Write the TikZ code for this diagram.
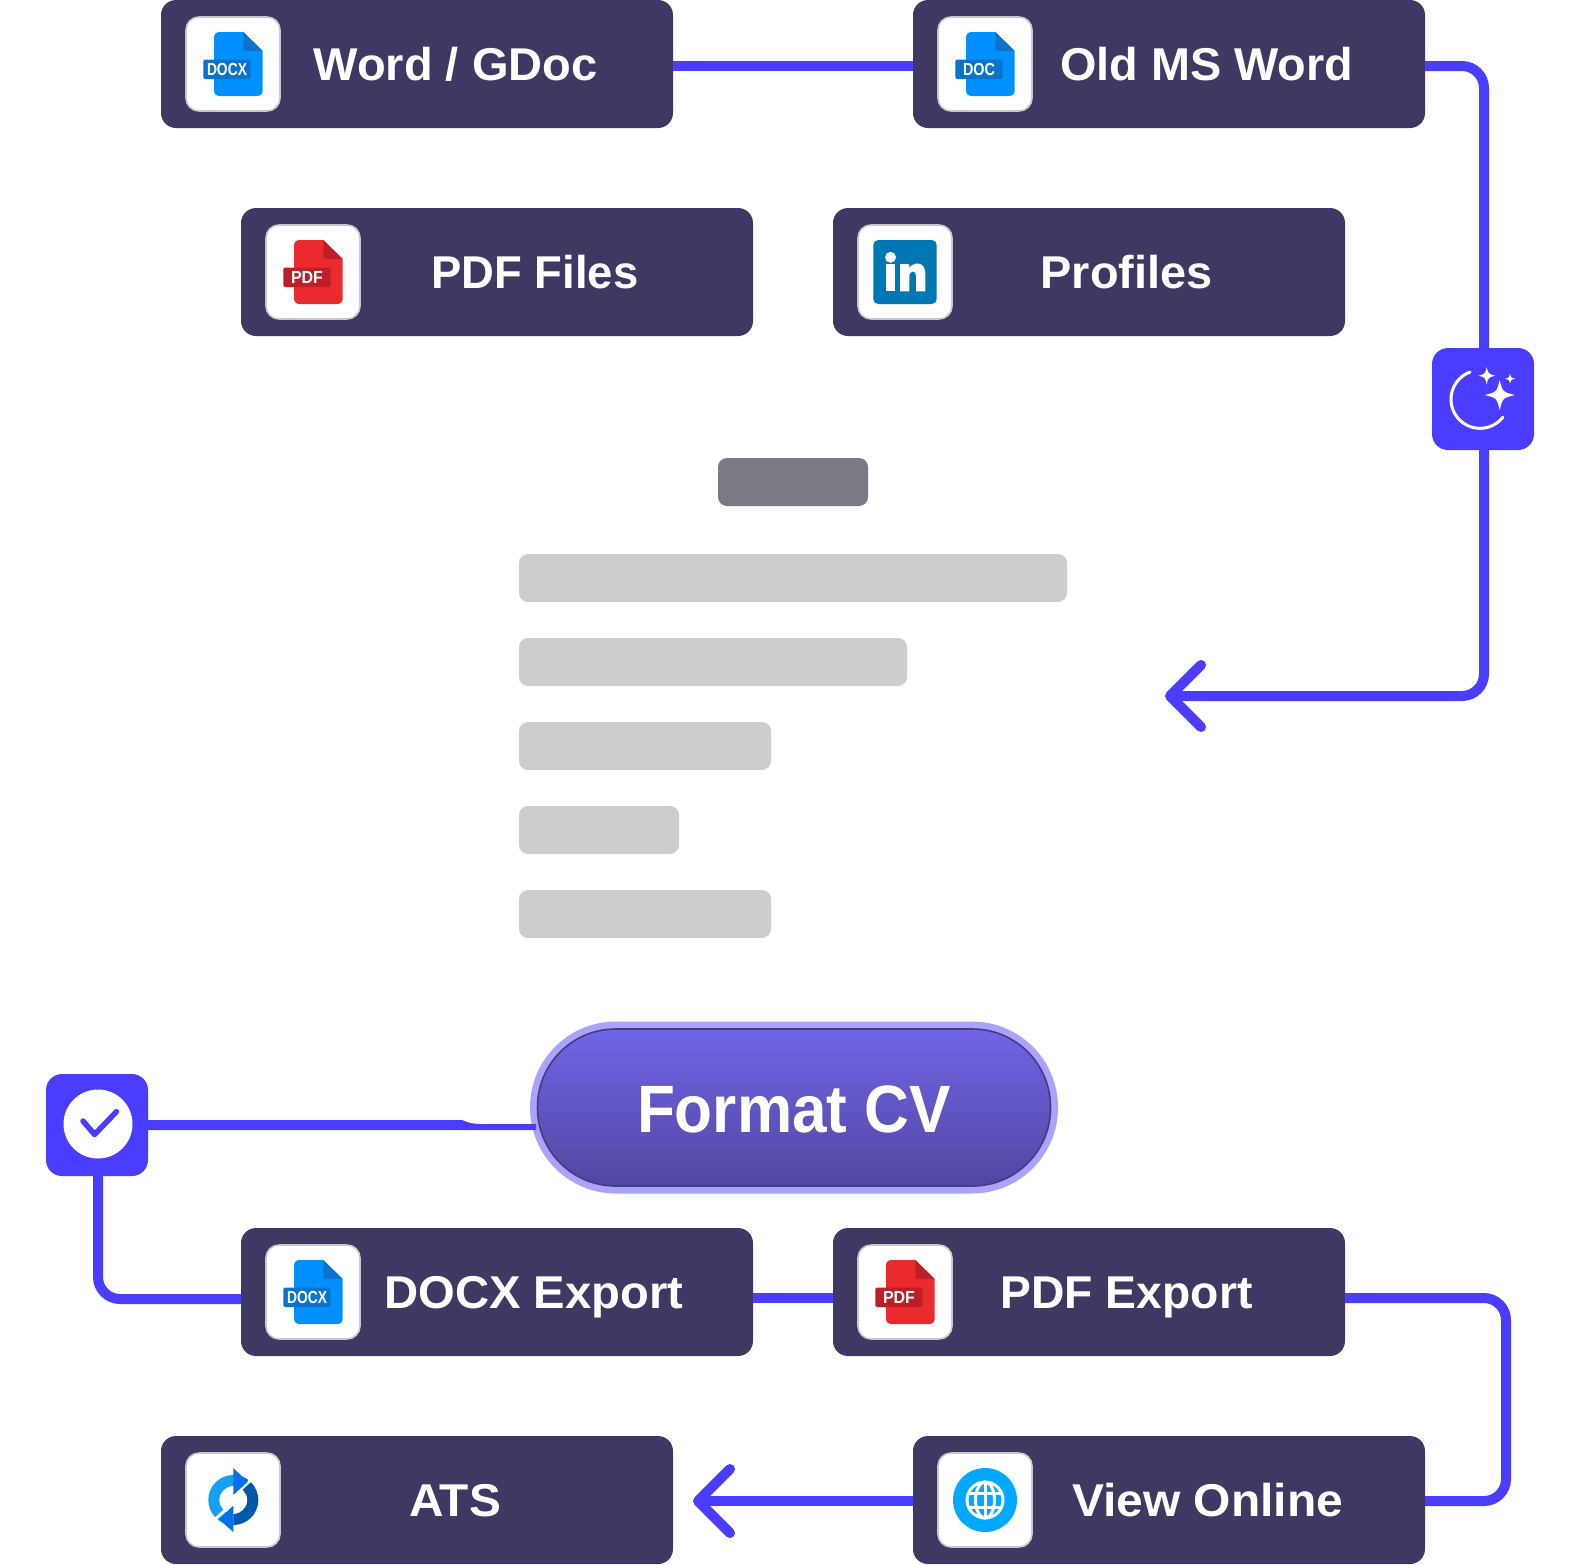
\documentclass[tikz,border=0pt]{standalone}
\usepackage{fontspec}
\usepackage{graphicx}
\setmainfont{Liberation Sans}
\definecolor{panel}{HTML}{3E3963}
\definecolor{conn}{HTML}{4B3DFF}
\definecolor{cardedge}{HTML}{C9C9CC}
\definecolor{barhead}{HTML}{7B7A84}
\definecolor{barbody}{HTML}{CDCDD0}
\definecolor{pillring}{HTML}{A9A3FA}
\definecolor{pilledge}{HTML}{423C86}
\definecolor{pilltop}{HTML}{7065E6}
\definecolor{pillbot}{HTML}{5047A2}
\definecolor{docmain}{HTML}{0090FF}
\definecolor{docdark}{HTML}{0A74CC}
\definecolor{pdfmain}{HTML}{EB2A2E}
\definecolor{pdfdark}{HTML}{BF1E26}
\definecolor{inblue}{HTML}{0077B5}
\definecolor{globeblue}{HTML}{00A8FF}
\definecolor{synclight}{HTML}{13A0F5}
\definecolor{syncmid}{HTML}{0071EE}
\definecolor{syncdark}{HTML}{0058A8}
\tikzset{
  x=1pt,y=-1pt,
  panelbox/.style={fill=panel,rounded corners=15pt,minimum width=512pt,minimum height=128pt,inner sep=0pt,outer sep=0pt},
  cardbox/.style={fill=white,draw=cardedge,line width=1.6pt,rounded corners=13pt,minimum width=94pt,minimum height=94pt,inner sep=0pt,outer sep=0pt},
  barbox/.style={fill=barbody,rounded corners=9pt,inner sep=0pt,outer sep=0pt,minimum height=48pt},
  badge/.style={fill=conn,rounded corners=16pt,minimum width=102pt,minimum height=102pt,inner sep=0pt,outer sep=0pt},
  conline/.style={draw=conn,line width=10pt,line join=round},
  chevron/.style={draw=conn,line width=10pt,line cap=round,line join=round},
  labtext/.style={text=white,font=\fontsize{46}{46}\selectfont\bfseries,anchor=base,inner sep=0pt},
  icontext/.style={text=white,font=\fontsize{17.5}{17.5}\selectfont\bfseries,anchor=base,inner sep=0pt},
}
% file icon: centre x, centre y, body colour, fold/label colour, text, text width
\newcommand{\fileicon}[6]{%
  \begin{scope}[shift={(#1,#2)}]
    \fill[#3] (-13,-32) -- (10.3,-32) -- (29.7,-13) -- (29.7,26) .. controls (29.7,30) and (27.7,32) .. (23.7,32)
      -- (-13,32) .. controls (-17,32) and (-19,30) .. (-19,26) -- (-19,-26) .. controls (-19,-30) and (-17,-32) .. (-13,-32) -- cycle;
    \fill[#4] (10.3,-32) -- (29.7,-13) -- (12.3,-13) .. controls (11,-13) and (10.3,-14) .. (10.3,-15) -- cycle;
    \fill[#4,rounded corners=2pt] (-29.7,-4.5) rectangle (17.7,15);
    \node[icontext] at (-6,11.6) {\resizebox{#6pt}{\height}{#5}};
  \end{scope}}
\newcommand{\sparkle}[3]{%
  \fill[white] (#1,#2-#3) .. controls (#1+0.2*#3,#2-0.2*#3) .. (#1+#3,#2)
    .. controls (#1+0.2*#3,#2+0.2*#3) .. (#1,#2+#3)
    .. controls (#1-0.2*#3,#2+0.2*#3) .. (#1-#3,#2)
    .. controls (#1-0.2*#3,#2-0.2*#3) .. (#1,#2-#3) -- cycle;}
\begin{document}
\begin{tikzpicture}
\useasboundingbox (0,0) rectangle (1586,1564);
% panels
\node[panelbox] (word) at (417,64) {};
\node[panelbox] (oldms) at (1169,64) {};
\node[panelbox] (pdffiles) at (497,272) {};
\node[panelbox] (profiles) at (1089,272) {};
\node[panelbox] (docxexp) at (497,1292) {};
\node[panelbox] (pdfexp) at (1089,1292) {};
\node[panelbox] (ats) at (417,1500) {};
\node[panelbox] (viewonline) at (1169,1500) {};
% badges
\node[badge] (moon) at (1483,399) {};
\node[badge] (check) at (97,1125) {};
% skeleton bars
\node[barbox,fill=barhead,minimum width=150pt] (bar0) at (793,482) {};
\node[barbox,minimum width=548pt] (bar1) at (793,578) {};
\node[barbox,minimum width=388pt] (bar2) at (713,662) {};
\node[barbox,minimum width=252pt] (bar3) at (645,746) {};
\node[barbox,minimum width=160pt] (bar4) at (599,830) {};
\node[barbox,minimum width=252pt] (bar5) at (645,914) {};
% connector coordinates
\coordinate (tipA) at (1170,696);
\coordinate (tipB) at (698,1501);
% connectors
\draw[conline] ([yshift=-2pt]word.east) -- ([yshift=-2pt]oldms.west);
\draw[conline,rounded corners=22pt] ([yshift=-2pt]oldms.east) -- (1484,66) -- (1484,696) -- (tipA);
\draw[chevron] (1201,665) -- (tipA) -- (1201,727);
\draw[conline] ([yshift=-6pt]docxexp.east) -- ([yshift=-6pt]pdfexp.west);
\draw[conline,rounded corners=22pt] ([yshift=-6pt]pdfexp.east) -- (1506,1298) -- (1506,1501) -- ([yshift=-1pt]viewonline.east);
\draw[conline] ([yshift=-1pt]viewonline.west) -- (tipB);
\draw[chevron] (730,1469) -- (tipB) -- (730,1533);
\draw[conline,rounded corners=22pt] ([xshift=1pt]check.south) -- (98,1299) -- (docxexp.west |- 0,1299);
% pill with taper connector
\node[fill=pillring,rounded corners=85.9pt,minimum width=528pt,minimum height=172pt,inner sep=0pt,outer sep=0pt] (pillring) at (794,1107.5) {};
\fill[conn] ([yshift=5pt]check.east) -- (462,1120) .. controls (468,1123) and (474,1124) .. (482,1124)
  -- (536,1124) -- (536,1130) -- ([yshift=-5pt]check.east) -- cycle;
\node[draw=pilledge,line width=1.6pt,top color=pilltop,bottom color=pillbot,rounded corners=78pt,minimum width=513pt,minimum height=157pt,inner sep=0pt,outer sep=0pt] (pill) at (794,1107.5) {};
\node[labtext,font=\fontsize{67}{67}\selectfont\bfseries] (pilltext) at (794,1132) {\resizebox{314pt}{\height}{Format CV}};
% cards
\node[cardbox] (c1) at (233,64) {};
\node[cardbox] (c2) at (985,64) {};
\node[cardbox] (c3) at (313,272) {};
\node[cardbox] (c4) at (905,272) {};
\node[cardbox] (c5) at (313,1292) {};
\node[cardbox] (c6) at (905,1292) {};
\node[cardbox] (c7) at (233,1500) {};
\node[cardbox] (c8) at (985,1500) {};
% file icons
\fileicon{233}{64}{docmain}{docdark}{DOCX}{40}
\fileicon{985}{64}{docmain}{docdark}{DOC}{32}
\fileicon{313}{272}{pdfmain}{pdfdark}{PDF}{32}
\fileicon{313}{1292}{docmain}{docdark}{DOCX}{40}
\fileicon{905}{1292}{pdfmain}{pdfdark}{PDF}{32}
% linkedin
\fill[inblue,rounded corners=5pt] (873.3,240) rectangle (936.7,304);
\fill[white] (890.5,257.3) circle[radius=5.5pt];
\fill[white] (885.8,264) rectangle (895.3,291.3);
\fill[white] (900,291.3) -- (900,264) -- (909,264) -- (909,268)
  .. controls (911,265) and (915,263.3) .. (918,263.5)
  .. controls (923,264) and (925.3,268) .. (925.3,274) -- (925.3,291.3) -- (916,291.3) -- (916,276)
  .. controls (916,273) and (915,271.5) .. (912.7,271.5)
  .. controls (910.5,271.5) and (909.3,273.5) .. (909.3,276) -- (909.3,291.3) -- cycle;
% sync icon
\fill[synclight] (233.3,1475) arc[start angle=90,end angle=270,radius=25pt]
  -- (233.3,1514) arc[start angle=270,end angle=90,radius=14pt] -- cycle;
\fill[syncdark] (233.3,1475) arc[start angle=90,end angle=-90,radius=25pt]
  -- (233.3,1514) arc[start angle=-90,end angle=90,radius=14pt] -- cycle;
\draw[white,line width=3pt] (229,1500) -- (253,1478);
\draw[white,line width=3pt] (237,1500) -- (213,1521);
\fill[syncmid] (233.3,1468) -- (247.7,1481.7) -- (233.3,1495) -- cycle;
\fill[syncmid] (233.3,1505.7) -- (219,1519.3) -- (233.3,1532) -- cycle;
% globe icon
\fill[globeblue] (985,1500) circle[radius=32pt];
\begin{scope}[draw=white,line width=3pt]
  \draw (985,1500) circle[radius=18pt];
  \draw (985,1500) ellipse[x radius=9.5pt,y radius=18pt];
  \draw (985,1482) -- (985,1518);
  \draw (969,1493) -- (1001,1493);
  \draw (969,1507) -- (1001,1507);
\end{scope}
% moon badge glyphs
\draw[white,line width=3pt,line cap=round] plot[domain=110:322,samples=50] ({1480+29*cos(\x)},{399.3-29*sin(\x)});
\sparkle{1499.7}{395}{15}
\sparkle{1486.7}{375.7}{8.5}
\sparkle{1510}{378.7}{5}
% check badge glyphs
\fill[white] (98,1124) circle[radius=34.5pt];
\draw[conn,line width=5.5pt,line cap=round,line join=round] (83,1121) -- (94.6,1134.5) -- (116.4,1111.7);
% labels
\node[labtext] (t1) at (455.5,80) {\resizebox{284pt}{\height}{Word / GDoc}};
\node[labtext] (t2) at (1206.5,80) {\resizebox{293pt}{\height}{Old MS Word}};
\node[labtext] (t3) at (535,288) {\resizebox{207pt}{\height}{PDF Files}};
\node[labtext] (t4) at (1126.5,288) {\resizebox{172pt}{\height}{Profiles}};
\node[labtext] (t5) at (534,1308) {\resizebox{299pt}{\height}{DOCX Export}};
\node[labtext] (t6) at (1126.5,1308) {\resizebox{252pt}{\height}{PDF Export}};
\node[labtext] (t7) at (455,1516) {\resizebox{92pt}{\height}{ATS}};
\node[labtext] (t8) at (1207.5,1516) {\resizebox{271pt}{\height}{View Online}};
\end{tikzpicture}
\end{document}
